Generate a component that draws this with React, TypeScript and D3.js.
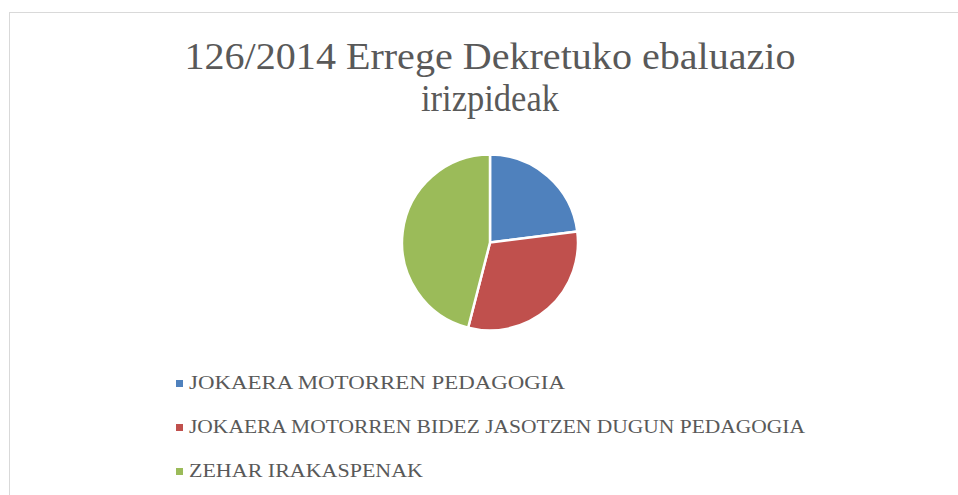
import React from "react";
import * as d3 from "d3";

const categories = [
  "JOKAERA MOTORREN PEDAGOGIA",
  "JOKAERA MOTORREN BIDEZ JASOTZEN DUGUN PEDAGOGIA",
  "ZEHAR IRAKASPENAK",
];
const values = [23, 31, 46];
const colors = ["#4F81BD", "#C0504D", "#9BBB59"];
const titleLines = ["126/2014 Errege Dekretuko ebaluazio", "irizpideak"];

const W = 958;
const H = 495;
const cx = 490;
const cy = 242.5;
const R = 88;

const titleWidths = [611, 138];
const legendWidths = [376, 616, 234];

export default function App() {
  const pie = d3
    .pie<number>()
    .sort(null)
    .value((d) => d)
    .startAngle(0)
    .endAngle(2 * Math.PI);
  const arc = d3.arc<d3.PieArcDatum<number>>().innerRadius(0).outerRadius(R);
  const arcs = pie(values);
  const font = "'Liberation Serif', 'DejaVu Serif', serif";

  return (
    <svg
      width={W}
      height={H}
      style={{ position: "absolute", left: 0, top: 0, background: "#fff" }}
    >
      <rect x={0} y={0} width={W} height={H} fill="#fff" />
      <rect
        x={9.5}
        y={12.5}
        width={W + 20}
        height={H + 20}
        fill="#fff"
        stroke="#D9D9D9"
        strokeWidth={1}
      />
      {titleLines.map((t, i) => (
        <text
          key={i}
          x={490}
          y={68.5 + i * 42.5}
          textAnchor="middle"
          fontFamily={font}
          fontSize={37}
          fill="#595959"
          textLength={titleWidths[i]}
          lengthAdjust="spacingAndGlyphs"
        >
          {t}
        </text>
      ))}
      <g transform={`translate(${cx},${cy})`}>
        {arcs.map((a, i) => (
          <path
            key={i}
            d={arc(a) || ""}
            fill={colors[i]}
            stroke="#fff"
            strokeWidth={2.5}
            strokeLinejoin="round"
          />
        ))}
      </g>
      {categories.map((c, i) => {
        const y = 389 + i * 44;
        return (
          <g key={c}>
            <rect x={176} y={y - 9} width={7} height={7} fill={colors[i]} />
            <text
              x={189}
              y={y}
              fontFamily={font}
              fontSize={19.5}
              fill="#595959"
              textLength={legendWidths[i]}
              lengthAdjust="spacingAndGlyphs"
            >
              {c}
            </text>
          </g>
        );
      })}
    </svg>
  );
}
